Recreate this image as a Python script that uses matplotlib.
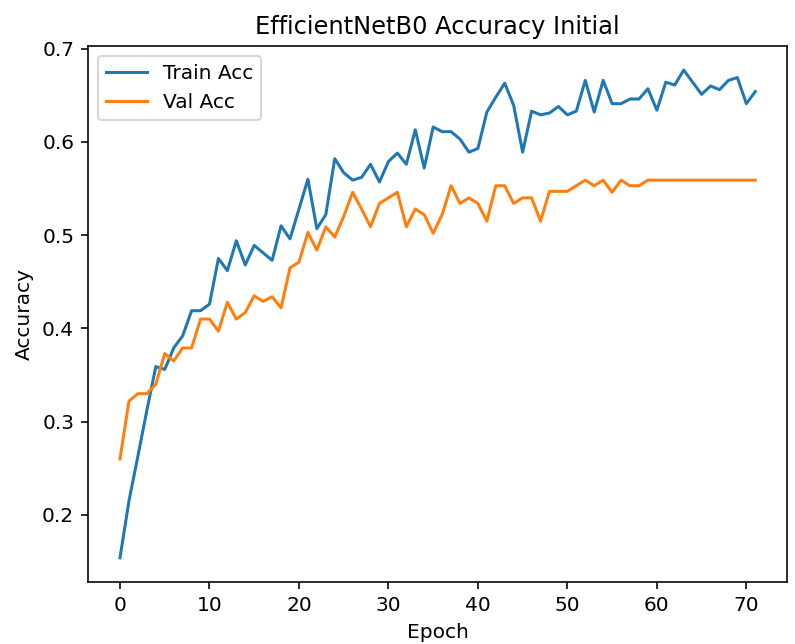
import numpy as np
import matplotlib
matplotlib.use('Agg')
import matplotlib.pyplot as plt

# accuracy per epoch
train_acc = [0.154, 0.215, 0.263, 0.312, 0.359, 0.356, 0.379, 0.392, 0.419, 0.419,
             0.426, 0.475, 0.462, 0.494, 0.468, 0.489, 0.481, 0.473, 0.510, 0.496,
             0.528, 0.560, 0.507, 0.522, 0.582, 0.567, 0.559, 0.562, 0.576, 0.557,
             0.579, 0.588, 0.576, 0.613, 0.572, 0.616, 0.611, 0.611, 0.603, 0.589,
             0.593, 0.632, 0.648, 0.663, 0.639, 0.589, 0.633, 0.629, 0.631, 0.638,
             0.629, 0.633, 0.666, 0.632, 0.666, 0.641, 0.641, 0.646, 0.646, 0.657,
             0.634, 0.664, 0.661, 0.677, 0.664, 0.651, 0.660, 0.656, 0.666, 0.669,
             0.641, 0.654]
val_acc = [0.260, 0.322, 0.330, 0.330, 0.340, 0.373, 0.365, 0.379, 0.379, 0.410,
           0.410, 0.397, 0.428, 0.410, 0.417, 0.435, 0.429, 0.434, 0.422, 0.465,
           0.471, 0.503, 0.484, 0.509, 0.498, 0.520, 0.546, 0.528, 0.509, 0.534,
           0.540, 0.546, 0.509, 0.528, 0.522, 0.502, 0.522, 0.553, 0.534, 0.540,
           0.534, 0.515, 0.553, 0.553, 0.534, 0.540, 0.540, 0.515, 0.547, 0.547,
           0.547, 0.553, 0.559, 0.553, 0.559, 0.546, 0.559, 0.553, 0.553, 0.559,
           0.559, 0.559, 0.559, 0.559, 0.559, 0.559, 0.559, 0.559, 0.559, 0.559,
           0.559, 0.559]
epochs = np.arange(len(train_acc))

dpi = 145
fig = plt.figure(figsize=(795 / dpi, 644 / dpi), dpi=dpi)
plt.plot(epochs, train_acc, label='Train Acc')
plt.plot(epochs, val_acc, label='Val Acc')
plt.title('EfficientNetB0 Accuracy Initial')
plt.xlabel('Epoch')
plt.ylabel('Accuracy')
plt.legend()
plt.subplots_adjust(left=0.111, right=0.99, top=0.929, bottom=0.096)
plt.savefig('out.png', dpi=dpi)
